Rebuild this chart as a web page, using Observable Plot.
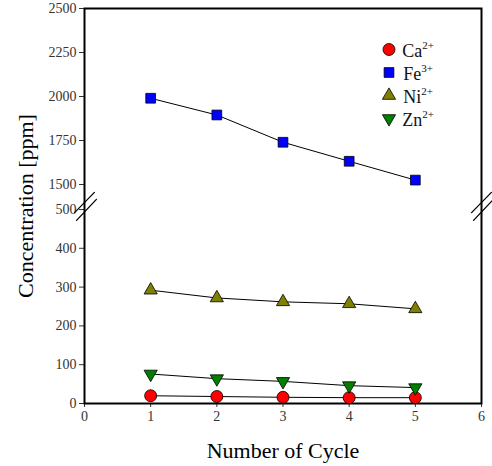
<!DOCTYPE html>
<html>
<head>
<meta charset="utf-8">
<script src="https://cdn.jsdelivr.net/npm/d3@7"></script>
<script src="https://cdn.jsdelivr.net/npm/@observablehq/plot@0.6"></script>
<style>
  html, body { margin: 0; padding: 0; background: white; }
  #chart { width: 492px; height: 466px; }
  #chart svg, #chart svg text { font-family: "Liberation Serif", "Times New Roman", serif !important; }
</style>
</head>
<body>
<div id="chart"></div>
<script>
// ---- data ----
const cycles = [1, 2, 3, 4, 5];
const ions = ["Ca", "Fe", "Ni", "Zn"];
const charges = ["2+", "3+", "2+", "2+"];
const caValues = [20, 18, 16, 15, 15];
const feValues = [1990, 1895, 1740, 1632, 1525];
const niValues = [292, 272, 262, 257, 244];
const znValues = [76, 64, 57, 46, 41];
const xTicks = [0, 1, 2, 3, 4, 5, 6];
const yTicksLow = [0, 100, 200, 300, 400, 500];
const yTicksHigh = [1500, 1750, 2000, 2250, 2500];

// ---- broken axis mapping ----
const lowMax = 500, highMin = 1500, highMax = 2500;
const gap = 64.4, k = 0.4536;
const f = v => v <= lowMax ? v : lowMax + gap + (v - highMin) * k;
const yTicks = [...yTicksLow, ...yTicksHigh];
const tickLabel = new Map(yTicks.map(v => [Math.round(f(v) * 100), v]));

const seriesValues = [caValues, feValues, niValues, znValues];
const rows = ions.flatMap((ion, i) => cycles.map((c, j) => ({ion, cycle: c, value: seriesValues[i][j]})));

const triangleDown = {
  draw(context, size) {
    const y = Math.sqrt(size / (Math.sqrt(3) * 3));
    context.moveTo(0, 2 * y);
    context.lineTo(-Math.sqrt(3) * y, -y);
    context.lineTo(Math.sqrt(3) * y, -y);
    context.closePath();
  }
};
const style = {
  Ca: {symbol: "circle", d3symbol: d3.symbolCircle, fill: "#ff0000", r: 6},
  Fe: {symbol: "square", d3symbol: d3.symbolSquare, fill: "#0000ff", r: 5.5},
  Ni: {symbol: "triangle", d3symbol: d3.symbolTriangle, fill: "#7f7f00", r: 4.9},
  Zn: {symbol: triangleDown, d3symbol: triangleDown, fill: "#007f00", r: 4.9}
};

// break marks (two slanted strokes on each vertical axis)
const brk = [];
[0, 6].forEach((sx, s) => {
  brk.push({id: s * 2, x: sx - 0.15, y: 492}, {id: s * 2, x: sx + 0.15, y: 544});
  brk.push({id: s * 2 + 1, x: sx - 0.12, y: 472}, {id: s * 2 + 1, x: sx + 0.18, y: 526});
});

const serif = "'Liberation Serif', 'Times New Roman', serif";
const marks = [
  Plot.frame({stroke: "black", strokeWidth: 2}),
  Plot.line(brk, {x: "x", y: "y", z: "id", stroke: "black", strokeWidth: 1.3, clip: false}),
  Plot.line(rows, {x: "cycle", y: d => f(d.value), z: "ion", stroke: "black", strokeWidth: 1})
];
ions.forEach(ion => {
  const s = style[ion];
  marks.push(Plot.dot(rows.filter(d => d.ion === ion), {
    x: "cycle", y: d => f(d.value), symbol: s.symbol, r: s.r,
    fill: s.fill, stroke: "black", strokeWidth: 0.8
  }));
});
marks.push(
  Plot.text(["Concentration [ppm]"], {frameAnchor: "left", dx: -59, rotate: -90, fontFamily: serif,
    fontSize: 22, fill: "black", textAnchor: "middle", lineAnchor: "middle"}),
  Plot.text(["Number of Cycle"], {frameAnchor: "bottom", dy: 47, fontFamily: serif,
    fontSize: 22, fill: "black", textAnchor: "middle", lineAnchor: "middle"})
);

const chart = Plot.plot({
  width: 492, height: 466,
  marginLeft: 84, marginRight: 11, marginTop: 8, marginBottom: 63,
  style: {fontFamily: serif, fontSize: "14px", color: "#333", background: "white"},
  x: {domain: [0, 6], ticks: xTicks, tickFormat: d => String(d), tickSize: 4, tickPadding: 4, label: null},
  y: {domain: [0, f(highMax)], ticks: yTicks.map(f), tickFormat: d => String(tickLabel.get(Math.round(d * 100))),
      tickSize: 5, tickPadding: 3, label: null},
  marks
});
document.getElementById("chart").appendChild(chart);

// ---- legend ----
const svg = d3.select(chart);
const lg = svg.append("g").attr("font-family", serif).attr("fill", "#111");
ions.forEach((ion, i) => {
  const s = style[ion];
  const cy = 49.5 + i * 23;
  lg.append("path")
    .attr("transform", `translate(389,${cy})`)
    .attr("d", d3.symbol(s.d3symbol, Math.PI * s.r * s.r)())
    .attr("fill", s.fill).attr("stroke", "black").attr("stroke-width", 0.8);
  const t = lg.append("text").attr("x", 418).attr("y", cy + 7).attr("font-size", 18);
  t.append("tspan").text(ion);
  t.append("tspan").attr("dy", -8).attr("font-size", 11).text(charges[i]);
});
</script>
</body>
</html>
